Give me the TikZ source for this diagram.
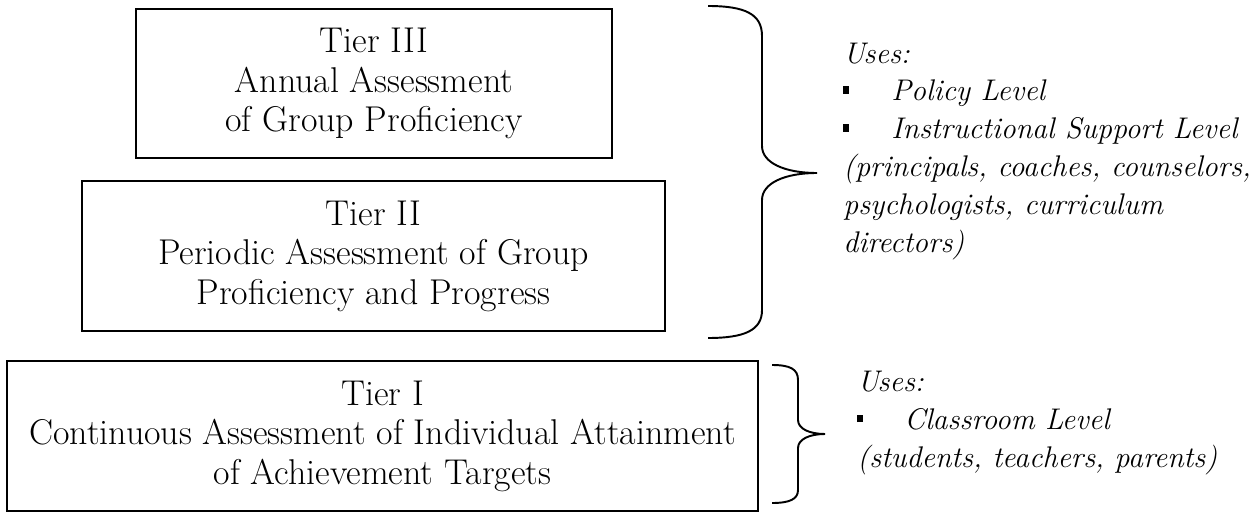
\documentclass[tikz,border=0pt]{standalone}
\usepackage{amsmath}
\usepackage{xcolor}
\usetikzlibrary{calc}

\newcommand{\sqbul}{\rule[0.14cm]{0.12cm}{0.15cm}}

\begin{document}
\begin{tikzpicture}[x=0.02cm,y=-0.02cm,
    tier/.style={draw, line width=1.1pt, align=center, inner sep=0pt,
      font=\fontsize{20.4}{22.5}\selectfont},
    uses/.style={align=left, inner sep=0pt, anchor=base west,
      font=\fontsize{17}{21.5}\selectfont\itshape},
    brace/.style={line width=1.1pt}]
      \useasboundingbox (0,0) rectangle (1256,513);

      \node[tier, minimum width=9.52cm, minimum height=2.98cm] (t3) at (374,83.5)
        {Tier III\\ Annual Assessment\\ of Group Proficiency};
      \node[tier, minimum width=11.66cm, minimum height=3cm] (t2) at (373.5,256)
        {Tier II\\ Periodic Assessment of Group\\ Proficiency and Progress};
      \node[tier, minimum width=15.02cm, minimum height=3cm] (t1) at (382.5,436)
        {Tier I\\ Continuous Assessment of Individual Attainment\\ of Achievement Targets};

      % braces
      \draw[brace] (708,6) .. controls (745,6) and (762,14) .. (762,36) -- (762,146)
        .. controls (762,163) and (785,173) .. (817,173)
        .. controls (785,173) and (762,183) .. (762,200) -- (762,310)
        .. controls (762,330) and (745,338) .. (708,338);
      \draw[brace] (772,365) .. controls (790,365) and (798,369) .. (798,380) -- (798,420)
        .. controls (798,429) and (810,434) .. (825,434)
        .. controls (810,434) and (798,439) .. (798,448) -- (798,490)
        .. controls (798,499) and (790,503) .. (772,503);

      % base is the last line
      \node[uses] (u23) at (843,252) {Uses:\\
        \makebox[0.96cm][l]{\sqbul}Policy Level\\
        \makebox[0.96cm][l]{\sqbul}Instructional Support Level\\
        (principals, coaches, counselors,\\
        psychologists, curriculum\\
        directors)};
      \node[uses] (u1) at (857,467) {Uses:\\
        \makebox[0.94cm][l]{\sqbul}Classroom Level\\
        (students, teachers, parents)};
\end{tikzpicture}
\end{document}
